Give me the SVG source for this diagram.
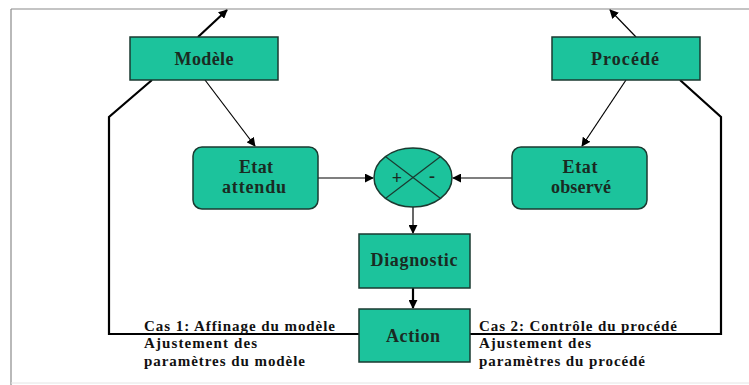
<svg xmlns="http://www.w3.org/2000/svg" width="749" height="385" viewBox="0 0 749 385">
<defs>
<marker id="ahs" viewBox="0 0 10 10" refX="9" refY="5" markerWidth="9" markerHeight="9" orient="auto" markerUnits="userSpaceOnUse"><path d="M0,0 L10,5 L0,10 z" fill="#000"/></marker>
<style>
.box{fill:#1cc39c;stroke:#1a3a30;stroke-width:1.5}
.lbl{font-family:"Liberation Serif",serif;font-weight:bold;font-size:18px;fill:#1a2a22;text-anchor:middle}
.cap{font-family:"Liberation Serif",serif;font-weight:bold;font-size:15px;fill:#111}
.thin{fill:none;stroke:#000;stroke-width:1.2}
.thick{fill:none;stroke:#000;stroke-width:2.2}
</style>
</defs>
<rect x="0" y="0" width="749" height="385" fill="#fff"/>
<line x1="11" y1="9" x2="749" y2="9" stroke="#8a8a8a" stroke-width="1.2"/>
<line x1="11" y1="9" x2="11" y2="385" stroke="#8a8a8a" stroke-width="1.2"/>
<line x1="11" y1="383" x2="749" y2="383" stroke="#e4e4e4" stroke-width="1"/>
<g id="connectors">
<line class="thick" x1="198" y1="37" x2="227" y2="10" marker-end="url(#ahs)"/>
<line class="thin" x1="636" y1="37" x2="610" y2="10" marker-end="url(#ahs)"/>
<polyline class="thick" points="152,80 109,117 109,334 359,334"/>
<polyline class="thick" points="680,80 721,117 721,334 470,334"/>
<line class="thin" x1="205" y1="80" x2="255" y2="146" marker-end="url(#ahs)"/>
<line class="thin" x1="626" y1="80" x2="582" y2="146" marker-end="url(#ahs)"/>
<line class="thin" x1="318" y1="178" x2="373" y2="178" marker-end="url(#ahs)"/>
<line class="thin" x1="512" y1="178" x2="453" y2="178" marker-end="url(#ahs)"/>
<line class="thin" x1="413" y1="207" x2="413" y2="233" marker-end="url(#ahs)"/>
<line class="thick" x1="413" y1="288" x2="413" y2="308" marker-end="url(#ahs)"/>
</g>
<g id="modele"><rect class="box" x="130" y="37" width="148" height="43"/><text class="lbl" x="204" y="65" textLength="59">Modèle</text></g>
<g id="procede"><rect class="box" x="552" y="37" width="148" height="43"/><text class="lbl" x="625" y="65" textLength="68">Procédé</text></g>
<g id="etat-attendu"><rect class="box" x="193" y="147" width="125" height="62" rx="9"/><text class="lbl" x="256" y="173" textLength="34">Etat</text><text class="lbl" x="254" y="193" textLength="64">attendu</text></g>
<g id="etat-observe"><rect class="box" x="512" y="147" width="135" height="62" rx="9"/><text class="lbl" x="580" y="173" textLength="35">Etat</text><text class="lbl" x="581" y="193" textLength="60">observé</text></g>
<g id="comparateur"><ellipse class="box" cx="413" cy="177.5" rx="39" ry="29.5"/>
<line x1="385.4" y1="156.6" x2="440.6" y2="198.4" stroke="#1a3a30" stroke-width="1.2"/>
<line x1="440.6" y1="156.6" x2="385.4" y2="198.4" stroke="#1a3a30" stroke-width="1.2"/>
<text class="lbl" x="397" y="184">+</text><text class="lbl" x="432" y="182">-</text></g>
<g id="diagnostic"><rect class="box" x="359" y="234" width="111" height="54"/><text class="lbl" x="414" y="266" textLength="87">Diagnostic</text></g>
<g id="action"><rect class="box" x="359" y="309" width="111" height="53"/><text class="lbl" x="413" y="342" textLength="54">Action</text></g>
<g id="cas1"><text class="cap" x="144" y="331" textLength="191">Cas 1: Affinage du modèle</text><text class="cap" x="144" y="348" textLength="113">Ajustement des</text><text class="cap" x="144" y="366" textLength="161">paramètres du modèle</text></g>
<g id="cas2"><text class="cap" x="479" y="331" textLength="198">Cas 2: Contrôle du procédé</text><text class="cap" x="479" y="348" textLength="112">Ajustement des</text><text class="cap" x="479" y="366" textLength="166">paramètres du procédé</text></g>
</svg>
